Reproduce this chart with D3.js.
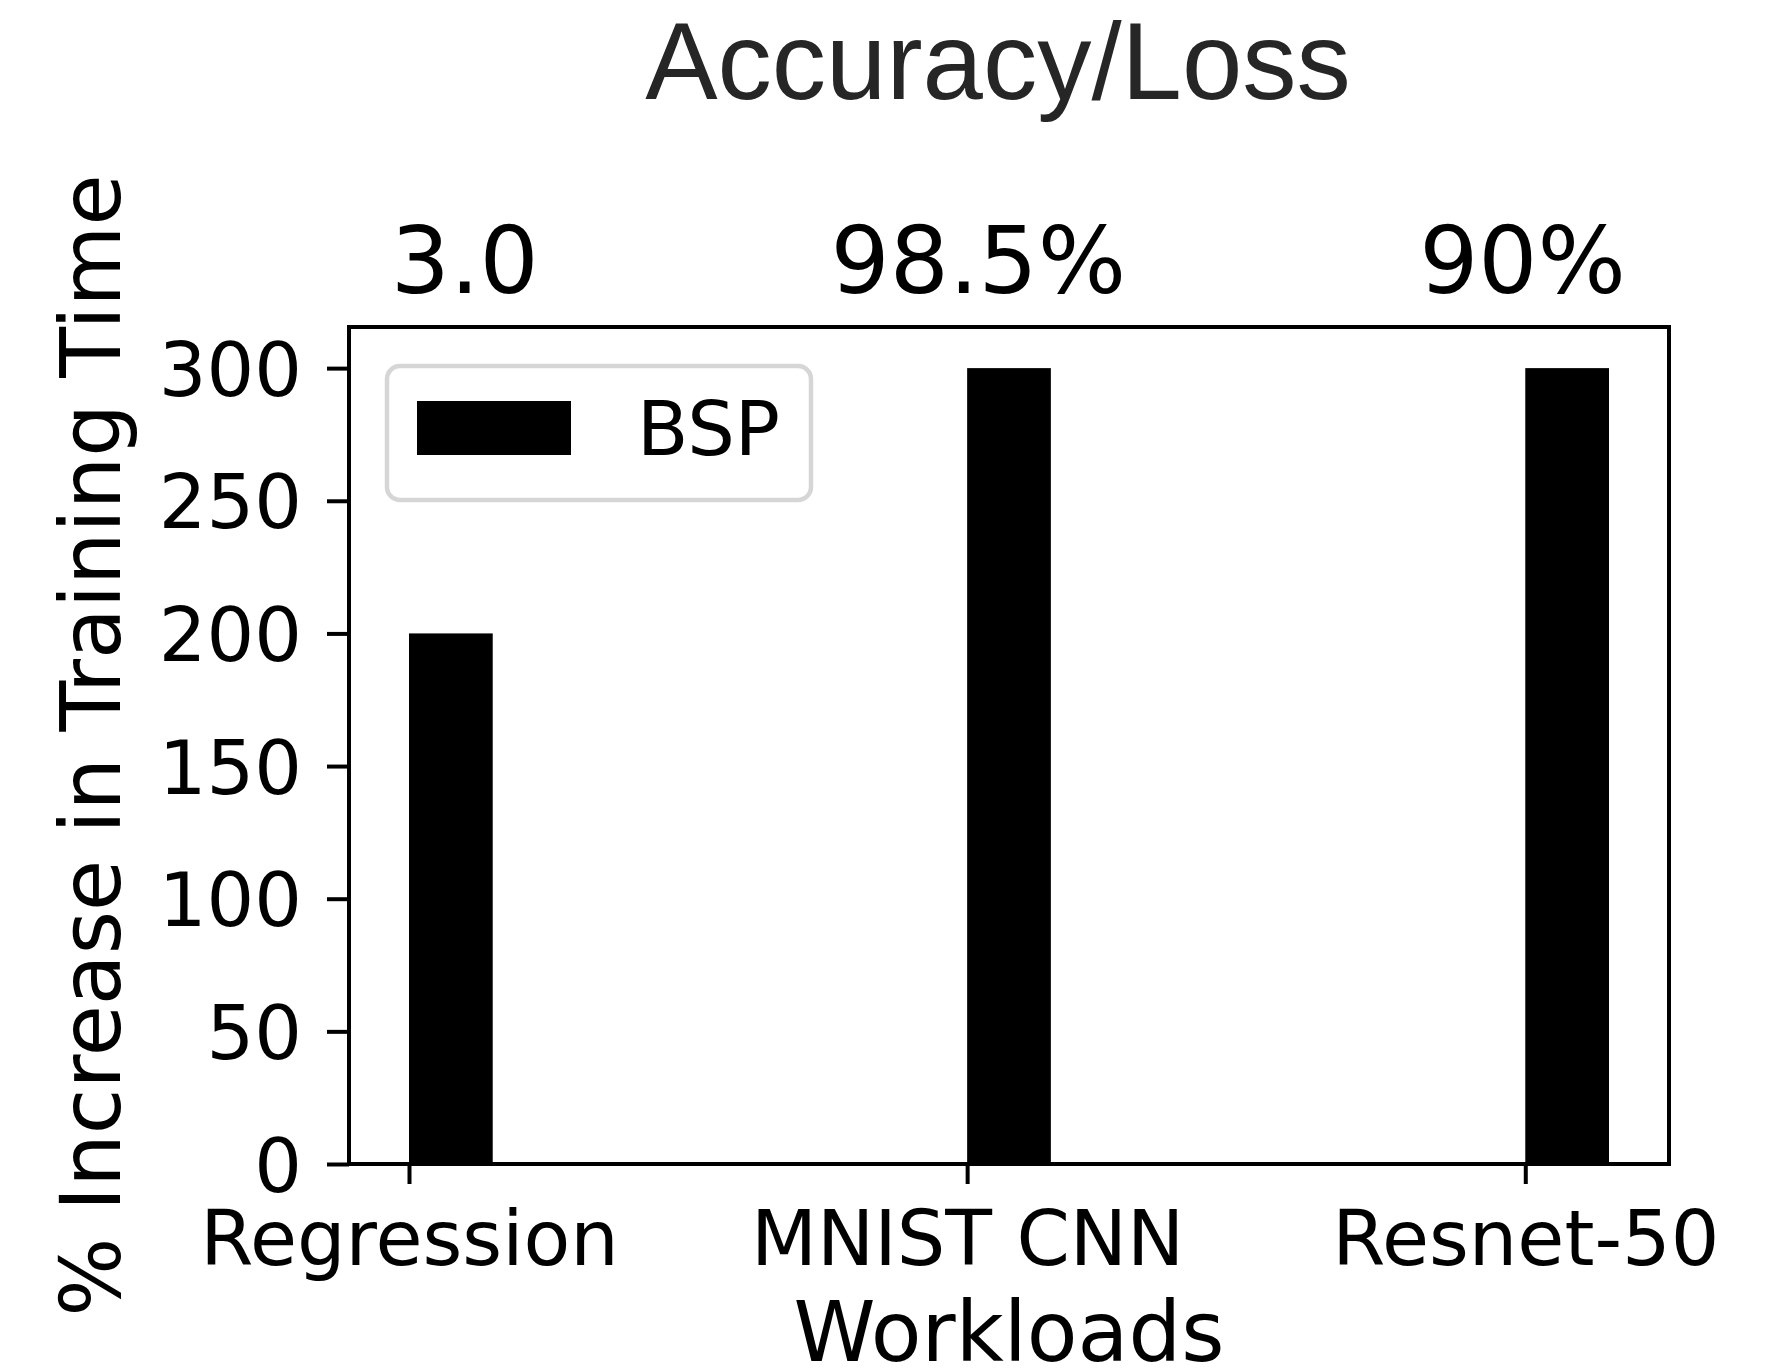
<!DOCTYPE html>
<html>
<head>
<meta charset="utf-8">
<script src="https://cdn.jsdelivr.net/npm/d3@7"></script>
<style>
  html, body { margin: 0; padding: 0; background: #ffffff; }
  svg { display: block; }
</style>
</head>
<body>
<svg id="chart" width="1773" height="1372"></svg>
<script>
// Workloads and the % increase in training time under BSP
const workloads = ["Regression", "MNIST CNN", "Resnet-50"];
const bspIncrease = [200, 300, 300];
// Accuracy / loss reached by each workload
const accuracyLabels = ["3.0", "98.5%", "90%"];
const yTicks = [0, 50, 100, 150, 200, 250, 300];

const W = 1773, H = 1372;
const plot = { left: 349, right: 1669, top: 327, bottom: 1164 };
const barWidth = 0.15;
// horizontal placement (in workload-index units) of the accuracy labels above the plot
const accuracyLabelX = [0.1, 1.02, 1.995];

const svg = d3.select("#chart");
svg.append("rect").attr("width", W).attr("height", H).attr("fill", "#ffffff");

const xMin = -0.1075, xMax = 2.2575;
const x = d3.scaleLinear().domain([xMin, xMax]).range([plot.left, plot.right]);
const y = d3.scaleLinear().domain([0, 315.5]).range([plot.bottom, plot.top]);

const font = "'DejaVu Sans', sans-serif";

// bars (edge-aligned at each workload position)
svg.append("g").selectAll("rect")
  .data(bspIncrease)
  .join("rect")
  .attr("x", (d, i) => x(i))
  .attr("width", (d, i) => x(i + barWidth) - x(i))
  .attr("y", d => y(d))
  .attr("height", d => y(0) - y(d))
  .attr("fill", "#000000");

// y axis
const yAxis = svg.append("g")
  .attr("transform", `translate(${plot.left},0)`)
  .call(d3.axisLeft(y).tickValues(yTicks).tickSize(22).tickPadding(25).tickFormat(d3.format("d")));
yAxis.select(".domain").remove();
yAxis.selectAll(".tick line").attr("stroke", "#000").attr("stroke-width", 4);
yAxis.selectAll(".tick text")
  .attr("font-family", font).attr("font-size", 75).attr("fill", "#000")
  .attr("dy", "0.36em");

// x axis
const xAxis = svg.append("g")
  .attr("transform", `translate(0,${plot.bottom})`)
  .call(d3.axisBottom(x).tickValues(d3.range(workloads.length)).tickSize(20).tickPadding(0)
    .tickFormat(i => workloads[i]));
xAxis.select(".domain").remove();
xAxis.selectAll(".tick line").attr("stroke", "#000").attr("stroke-width", 4);
xAxis.selectAll(".tick text")
  .attr("font-family", font).attr("font-size", 76.5).attr("fill", "#000")
  .attr("y", 101).attr("dy", 0);

// frame
svg.append("rect")
  .attr("x", plot.left).attr("y", plot.top)
  .attr("width", plot.right - plot.left).attr("height", plot.bottom - plot.top)
  .attr("fill", "none").attr("stroke", "#000").attr("stroke-width", 4);

// accuracy labels above the plot
svg.append("g").selectAll("text")
  .data(accuracyLabels)
  .join("text")
  .attr("x", (d, i) => x(accuracyLabelX[i]))
  .attr("y", 293)
  .attr("text-anchor", "middle")
  .attr("font-family", font).attr("font-size", 93).attr("fill", "#000")
  .text(d => d);

// title
svg.append("text")
  .attr("x", 998).attr("y", 99)
  .attr("text-anchor", "middle")
  .attr("font-family", "'Liberation Sans', Arial, sans-serif")
  .attr("font-size", 108.5).attr("fill", "#262626")
  .text("Accuracy/Loss");

// axis titles
svg.append("text")
  .attr("x", (plot.left + plot.right) / 2).attr("y", 1361)
  .attr("text-anchor", "middle")
  .attr("font-family", font).attr("font-size", 83).attr("fill", "#000")
  .text("Workloads");

svg.append("text")
  .attr("transform", `translate(120,${(plot.top + plot.bottom) / 2}) rotate(-90)`)
  .attr("text-anchor", "middle")
  .attr("font-family", font).attr("font-size", 83).attr("fill", "#000")
  .text("% Increase in Training Time");

// legend
const legend = svg.append("g");
legend.append("rect")
  .attr("x", 387).attr("y", 366).attr("width", 424).attr("height", 134)
  .attr("rx", 13).attr("ry", 13)
  .attr("fill", "#ffffff").attr("stroke", "#d6d6d6").attr("stroke-width", 4.5);
legend.append("rect")
  .attr("x", 417).attr("y", 401).attr("width", 154).attr("height", 54)
  .attr("fill", "#000000");
legend.append("text")
  .attr("x", 637).attr("y", 455)
  .attr("font-family", font).attr("font-size", 75).attr("fill", "#000")
  .text("BSP");
</script>
</body>
</html>
